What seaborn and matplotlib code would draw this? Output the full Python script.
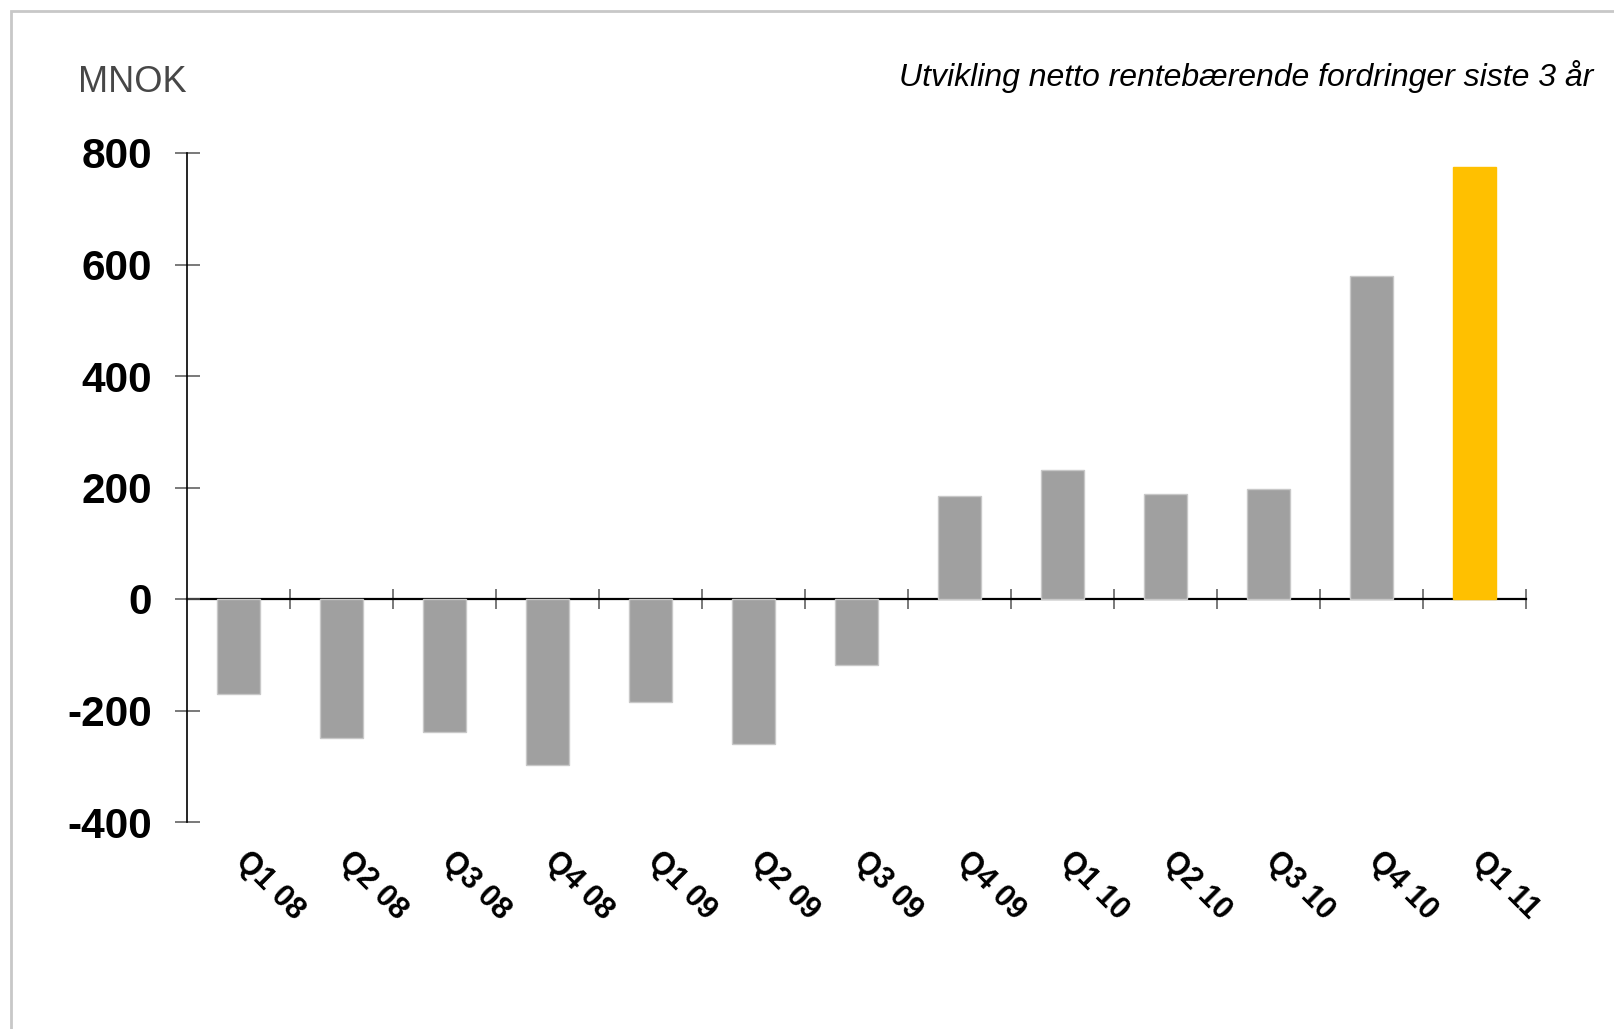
import matplotlib
matplotlib.use("Agg")
import matplotlib.pyplot as plt
import matplotlib.patches as mpatches
from matplotlib.transforms import ScaledTranslation
import seaborn as sns
import pandas as pd

# Quarterly change in net interest-bearing receivables (MNOK)
quarters = ["Q1 08", "Q2 08", "Q3 08", "Q4 08", "Q1 09", "Q2 09", "Q3 09",
            "Q4 09", "Q1 10", "Q2 10", "Q3 10", "Q4 10", "Q1 11"]
values = [-170, -249, -239, -297, -184, -260, -119, 184, 231, 188, 198, 579, 774]
y_ticks = [-400, -200, 0, 200, 400, 600, 800]

GREY = "#a0a0a0"
HIGHLIGHT = "#ffc000"
bar_colors = [GREY] * (len(quarters) - 1) + [HIGHLIGHT]

sns.set_theme(style="white")
plt.rcParams["font.family"] = ["Liberation Sans", "DejaVu Sans"]

W, H = 1614, 1029
fig = plt.figure(figsize=(W / 100, H / 100), dpi=100)
ax = fig.add_axes([187 / W, 1 - 822 / H, (1526 - 187) / W, (822 - 153) / H])

df = pd.DataFrame({"quarter": quarters, "value": values})
sns.barplot(data=df, x="quarter", y="value", hue="quarter",
            palette=bar_colors, legend=False, width=0.41, saturation=1,
            ax=ax)
for patch, c in zip(ax.patches, bar_colors):
    patch.set_edgecolor("#c8c8c8" if c == GREY else HIGHLIGHT)
    patch.set_linewidth(1.0)

ax.set_xlim(-0.5, len(quarters) - 0.5)
ax.set_ylim(-400, 800)
ax.set_xlabel("")
ax.set_ylabel("")

# spines: only the value axis on the left
for side in ("top", "right", "bottom"):
    ax.spines[side].set_visible(False)
ax.spines["left"].set_color("black")
ax.spines["left"].set_linewidth(1.2)

# y ticks crossing the axis
ax.set_yticks(y_ticks)
ax.set_yticklabels([str(v) for v in y_ticks], fontsize=30.5, fontweight="bold",
                   color="black")
ax.tick_params(axis="y", direction="inout", length=18, width=1.1,
               color="#555555", pad=16, left=True)

# category labels at the bottom, rotated
ax.set_xticks(range(len(quarters)))
ax.set_xticklabels(quarters, fontsize=22, fontweight="bold", color="black",
                   rotation=-45, ha="left", va="center",
                   rotation_mode="anchor")
ax.tick_params(axis="x", length=0, pad=25, bottom=True)
offset = ScaledTranslation(2 / 100, 0, fig.dpi_scale_trans)
for lab in ax.get_xticklabels():
    lab.set_transform(lab.get_transform() + offset)

# zero line with tick marks at category boundaries
zero_pos = (0 - (-400)) / (800 - (-400))
sec = ax.secondary_xaxis(zero_pos)
sec.spines["bottom"].set_color("black")
sec.spines["bottom"].set_linewidth(1.6)
sec.set_xticks([i + 0.5 for i in range(len(quarters))])
sec.set_xticklabels([])
sec.tick_params(axis="x", direction="inout", length=14, width=1.1,
                color="#555555")

ax.grid(False)

fig.text(78 / W, 1 - 92 / H, "MNOK", fontsize=26, color="#474747",
         ha="left", va="baseline")
fig.text(1593 / W, 1 - 86 / H,
         "Utvikling netto rentebærende fordringer siste 3 år",
         fontsize=23, style="italic", color="black",
         ha="right", va="baseline")

# light frame around the slide area
frame = mpatches.Rectangle((11 / W, -1), 2, 1 - 11 / H + 1,
                           transform=fig.transFigure, fill=False,
                           edgecolor="#c8c8c8", linewidth=2)
fig.patches.append(frame)

fig.savefig("out.png", dpi=100, facecolor="white")
